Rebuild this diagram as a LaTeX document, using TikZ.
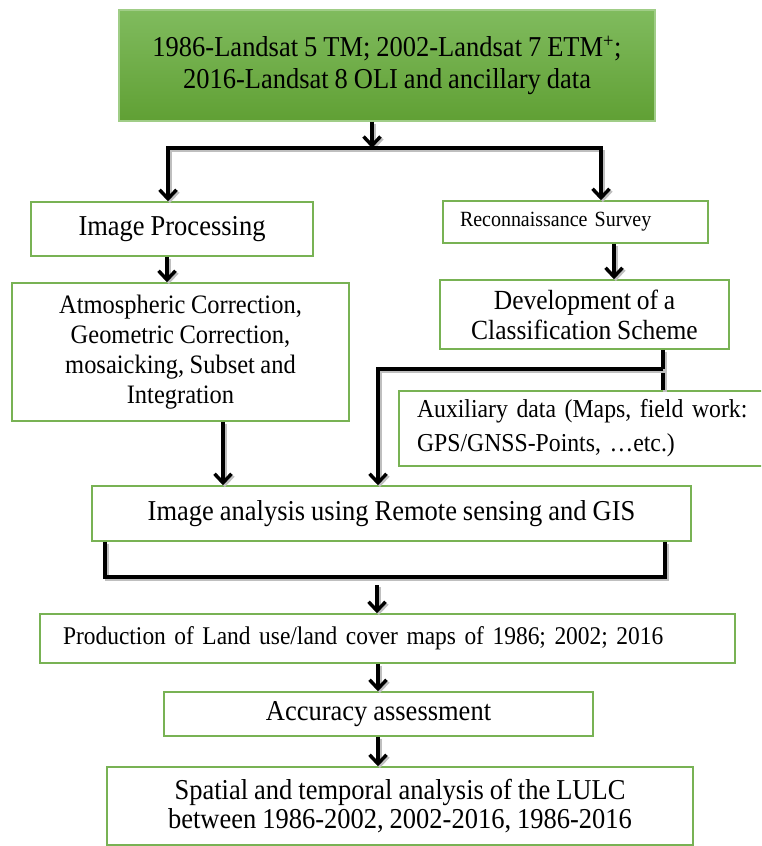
\documentclass[tikz,border=0pt]{standalone}
\usepackage{fontspec}
\setmainfont{Liberation Serif}[FakeStretch=0.92, WordSpace=0.9]
\usetikzlibrary{arrows.meta}
\definecolor{bgreen}{RGB}{120,178,84}
\definecolor{gtop}{RGB}{128,187,94}
\definecolor{gbot}{RGB}{96,160,52}
\definecolor{gedge}{RGB}{160,205,135}
\begin{document}
\begin{tikzpicture}[x=1pt,y=-1pt,
  box/.style={draw=bgreen, line width=1.5pt, fill=white, rectangle, inner sep=0pt, align=center},
  conn/.style={line width=3.4pt, black, line join=miter,
    preaction={draw=black!25, line width=3.4pt, transform canvas={shift={(1.8pt,-1.8pt)}}}},
  arr/.style={conn, -{Straight Barb[length=9pt,width=17pt]}},
  big/.style={font=\fontsize{28.8}{32}\selectfont},
  mid/.style={font=\fontsize{26.6}{30}\selectfont},
]
\useasboundingbox (0,0) rectangle (761,846);
\clip (0,0) rectangle (761,846);

% nodes
\node[box, draw=gedge, top color=gtop, bottom color=gbot, minimum width=536pt, minimum height=111pt, big] (top) at (387,65.5)
  {1986-Landsat 5 TM; 2002-Landsat 7 ETM\textsuperscript{+};\\2016-Landsat 8 OLI and ancillary data};
\node[box, minimum width=282pt, minimum height=54pt, big] (ip) at (172,229) {Image Processing};
\node[box, minimum width=265pt, minimum height=42pt, inner xsep=17pt, text width=231pt, align=left,
  font=\fontsize{21.7}{24}\selectfont] (rs) at (575.5,222) {Reconnaissance Survey};
\node[box, minimum width=337pt, minimum height=138pt, mid] (atm) at (180.5,352)
  {Atmospheric Correction,\\Geometric Correction,\\mosaicking, Subset and\\Integration};
\node[box, minimum width=289pt, minimum height=69pt, font=\fontsize{27.7}{30}\selectfont] (dev) at (584.5,314.5)
  {Development of a\\Classification Scheme};
\node[box, minimum width=381pt, minimum height=75pt, inner xsep=18pt, text width=345pt, align=left,
  font=\fontsize{25.8}{34}\selectfont] (aux) at (589.5,428.5)
  {Auxiliary data (Maps, field work:\\GPS/GNSS-Points, …etc.)};
\node[box, minimum width=599pt, minimum height=55pt, big] (ia) at (391.5,513.5)
  {Image analysis using Remote sensing and GIS};
\node[box, minimum width=695pt, minimum height=49pt, inner xsep=23pt, text width=649pt, align=left,
  font=\fontsize{25.5}{30}\selectfont] (prod) at (387.5,638.5)
  {Production of Land use/land cover maps of 1986; 2002; 2016};
\node[box, minimum width=429pt, minimum height=44pt, big] (acc) at (378.5,714) {Accuracy assessment};
\node[box, minimum width=586pt, minimum height=78pt, font=\fontsize{28.8}{29}\selectfont] (sp) at (400,806)
  {Spatial and temporal analysis of the LULC\\between 1986-2002, 2002-2016, 1986-2016};

% junction coordinates
\coordinate (j1) at (372,148);
\coordinate (jl) at (168,148);
\coordinate (jr) at (601,148);
\coordinate (c1) at (167,0);
\coordinate (c2) at (614,0);
\coordinate (dm) at (663,369);
\coordinate (dl) at (378,369);
\coordinate (c3) at (223,0);
\coordinate (bl) at (105,0);
\coordinate (br) at (665,0);
\coordinate (by) at (0,577);
\coordinate (ba) at (377,585);
\coordinate (cx) at (378,0);

% connectors
\draw[arr] (top.south -| j1) -- (j1);
\draw[conn, line cap=rect] (jl) -- (jr);
\draw[arr] (jl) -- (ip.north -| jl);
\draw[arr] (jr) -- (rs.north -| jr);
\draw[arr] (ip.south -| c1) -- (atm.north -| c1);
\draw[arr] (rs.south -| c2) -- (dev.north -| c2);
\draw[conn] (dev.south -| dm) -- (aux.north -| dm);
\draw[arr] (dm) -- (dl) -- (ia.north -| dl);
\draw[arr] (atm.south -| c3) -- (ia.north -| c3);
\draw[conn] (ia.south -| bl) -- (bl |- by) -- (br |- by) -- (ia.south -| br);
\draw[arr] (ba) -- (prod.north -| ba);
\draw[arr] (prod.south -| cx) -- (acc.north -| cx);
\draw[arr] (acc.south -| cx) -- (sp.north -| cx);
\end{tikzpicture}
\end{document}
